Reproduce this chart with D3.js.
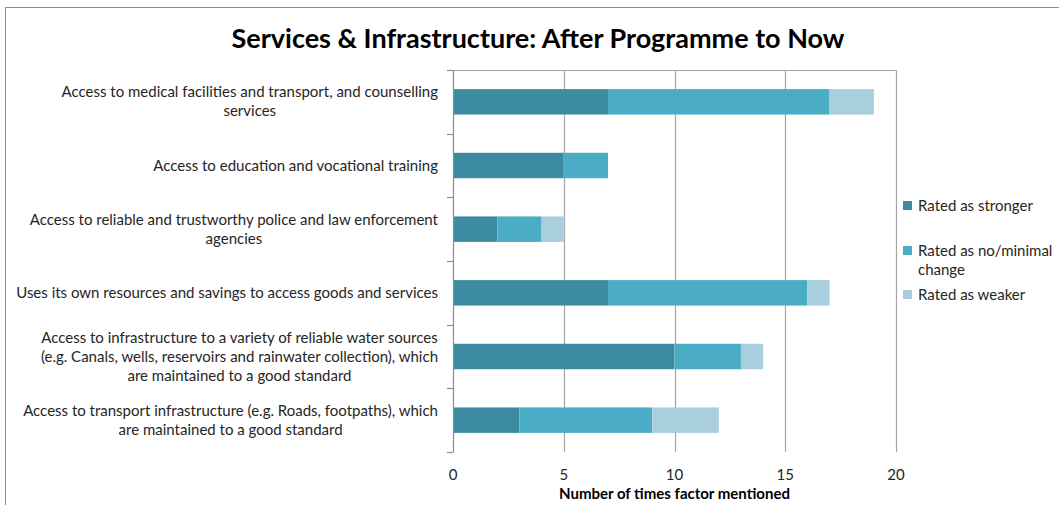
<!DOCTYPE html>
<html>
<head>
<meta charset="utf-8">
<script src="https://cdn.jsdelivr.net/npm/d3@7"></script>
<style>
  html, body { margin: 0; padding: 0; background: #fff; }
  svg { display: block; font-family: Lato, "Open Sans", sans-serif; }
</style>
</head>
<body>
<svg id="chart" width="1059" height="505"></svg>
<script>
// Factors, each given as lines of its wrapped label
const categories = [
  ["Access to medical facilities and transport, and counselling", "services"],
  ["Access to education and vocational training"],
  ["Access to reliable and trustworthy police and law enforcement", "agencies"],
  ["Uses its own resources and savings to access goods and services"],
  ["Access to infrastructure to a variety of reliable water sources", "(e.g. Canals, wells, reservoirs and rainwater collection), which", "are maintained to a good standard"],
  ["Access to transport infrastructure (e.g. Roads, footpaths), which", "are maintained to a good standard"]
];
const seriesNames = ["Rated as stronger", "Rated as no/minimal change", "Rated as weaker"];
const legendLines = [["Rated as stronger"], ["Rated as no/minimal", "change"], ["Rated as weaker"]];
const stronger = [7, 5, 2, 7, 10, 3];
const noChange = [10, 2, 2, 9, 3, 6];
const weaker   = [2, 0, 1, 1, 1, 3];
const xTicks = [0, 5, 10, 15, 20];
const colors = ["#3c8ba1", "#4bacc6", "#a9cedd"];

const svg = d3.select("#chart");
const plotLeft = 453, plotRight = 896, plotTop = 70, plotBottom = 452;

// outer chart frame
svg.append("rect").attr("x", 5.5).attr("y", 7.5).attr("width", 1080).attr("height", 520)
  .attr("fill", "none").attr("stroke", "#8c8c8c").attr("stroke-width", 1);

svg.append("text").attr("x", 538).attr("y", 48).attr("text-anchor", "middle")
  .attr("font-size", 27).attr("font-weight", "bold").attr("fill", "#000")
  .text("Services & Infrastructure: After Programme to Now");

const keys = categories.map((c, i) => i);
const x = d3.scaleLinear().domain([0, 20]).range([plotLeft, plotRight]);
const yBand = d3.scaleBand().domain(keys).range([plotTop, plotBottom]).paddingInner(0.6).paddingOuter(0.3);
const yCat = d3.scaleBand().domain(keys).range([plotTop, plotBottom]).padding(0);

// vertical gridlines
svg.append("g").selectAll("line").data(xTicks.slice(1)).join("line")
  .attr("x1", d => Math.round(x(d)) + 0.5).attr("x2", d => Math.round(x(d)) + 0.5)
  .attr("y1", plotTop).attr("y2", plotBottom)
  .attr("stroke", "#a6a6a6").attr("stroke-width", 1.2);

// value axis line along the top
svg.append("line").attr("x1", plotLeft).attr("x2", plotRight).attr("y1", plotTop + 0.5).attr("y2", plotTop + 0.5)
  .attr("stroke", "#a6a6a6").attr("stroke-width", 1.2);

// stacked bars
const table = keys.map(i => ({ key: i, s0: stronger[i], s1: noChange[i], s2: weaker[i] }));
const stack = d3.stack().keys(["s0", "s1", "s2"])(table);
svg.append("g").selectAll("g").data(stack).join("g")
  .attr("fill", (d, i) => colors[i])
  .selectAll("rect").data(d => d).join("rect")
  .attr("x", d => x(d[0])).attr("width", d => x(d[1]) - x(d[0]))
  .attr("y", d => yBand(d.data.key)).attr("height", yBand.bandwidth());

// category axis with ticks at band boundaries
svg.append("line").attr("x1", plotLeft + 0.5).attr("x2", plotLeft + 0.5).attr("y1", plotTop).attr("y2", plotBottom + 0.5)
  .attr("stroke", "#8c8c8c").attr("stroke-width", 1.2);
const bounds = keys.map(k => yCat(k)).concat([plotBottom]);
svg.append("g").selectAll("line").data(bounds).join("line")
  .attr("x1", plotLeft - 6).attr("x2", plotLeft).attr("y1", d => Math.round(d) + 0.5).attr("y2", d => Math.round(d) + 0.5)
  .attr("stroke", "#8c8c8c").attr("stroke-width", 1.2);

// category labels: centred lines in a right-aligned block
const lineH = 19;
categories.forEach((lines, i) => {
  const cy = yCat(i) + yCat.bandwidth() / 2;
  const t = svg.append("text").attr("font-size", 15).attr("fill", "#262626").attr("text-anchor", "middle");
  lines.forEach((ln, j) => {
    t.append("tspan").attr("x", 0).attr("y", cy + (j - (lines.length - 1) / 2) * lineH + 5).text(ln);
  });
  const w = d3.max(t.selectAll("tspan").nodes(), n => n.getComputedTextLength());
  t.selectAll("tspan").attr("x", 438 - w / 2);
});

// value tick labels
svg.append("g").selectAll("text").data(xTicks).join("text")
  .attr("x", d => x(d)).attr("y", 480).attr("text-anchor", "middle")
  .attr("font-size", 15).attr("fill", "#262626").text(d => d);

svg.append("text").attr("x", x(10)).attr("y", 499).attr("text-anchor", "middle")
  .attr("font-size", 15).attr("font-weight", "bold").attr("fill", "#000")
  .text("Number of times factor mentioned");

// legend
const legendY = [206, 251, 295];
legendLines.forEach((lines, i) => {
  const g = svg.append("g").attr("class", "legend-item").attr("data-series", seriesNames[i]);
  g.append("rect").attr("x", 903).attr("y", legendY[i] - 5).attr("width", 9).attr("height", 9).attr("fill", colors[i]);
  const t = g.append("text").attr("font-size", 15).attr("fill", "#262626");
  lines.forEach((ln, j) => t.append("tspan").attr("x", 918).attr("y", legendY[i] + 5 + j * 19).text(ln));
});
</script>
</body>
</html>
